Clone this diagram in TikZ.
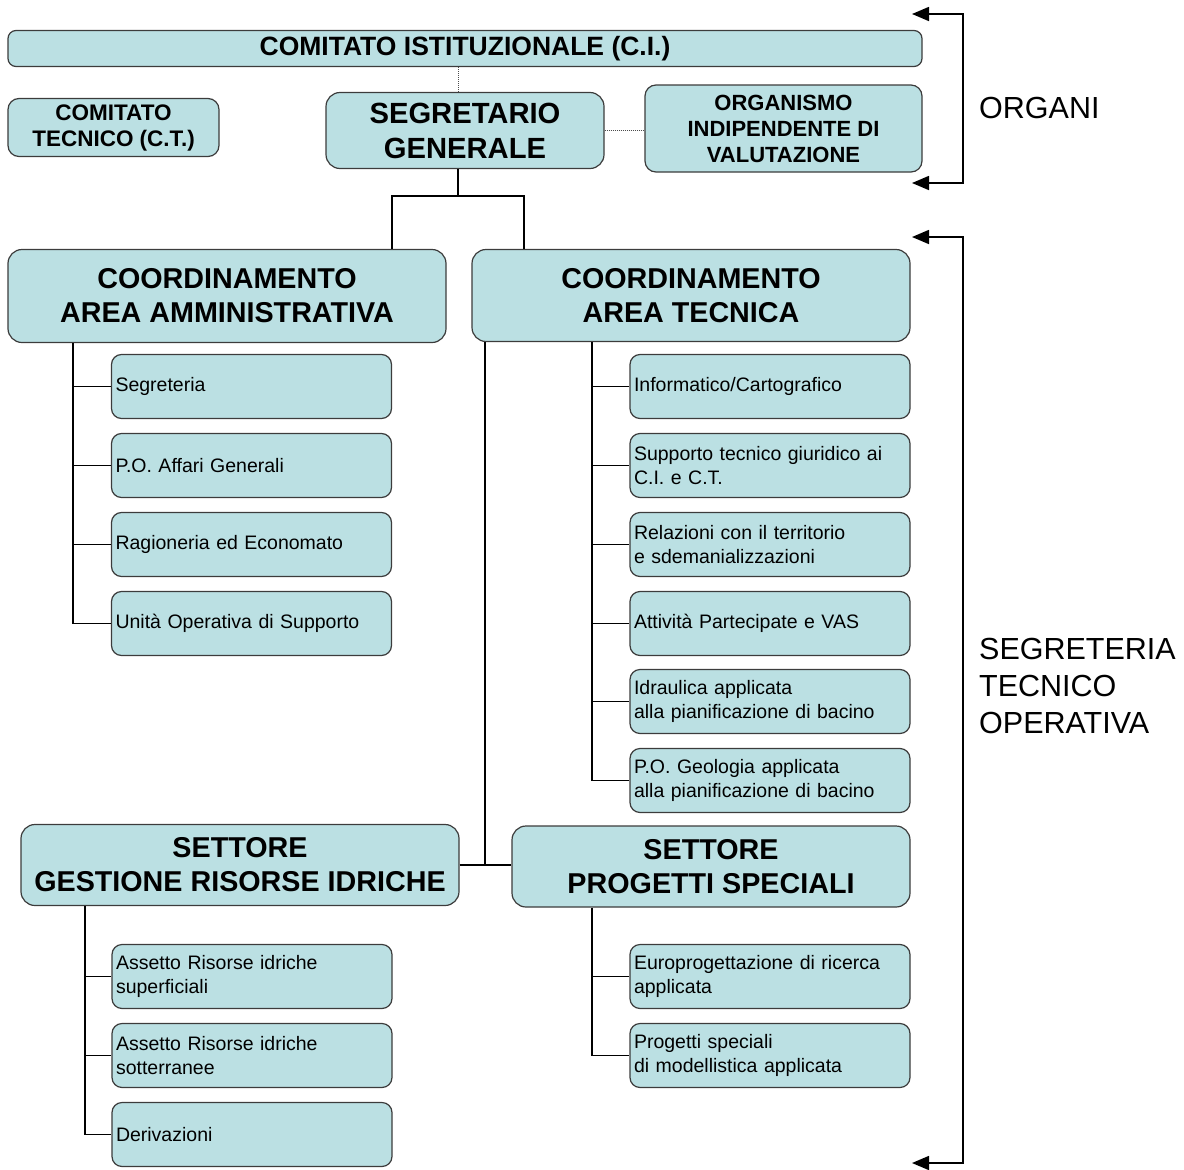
\documentclass[tikz,border=0pt]{standalone}
\usepackage{fontspec}
\setmainfont{Liberation Sans}
\usetikzlibrary{arrows.meta}
\definecolor{boxfill}{RGB}{187,224,227}
\definecolor{boxline}{RGB}{60,60,60}
\tikzset{
  basebox/.style={draw=boxline, fill=boxfill, line width=1.2pt, inner sep=0pt},
  headbox/.style={basebox, rounded corners=14pt, align=center, font=\bfseries\fontsize{28.7}{34}\selectfont},
  midbox/.style={basebox, rounded corners=11pt, align=center, font=\bfseries\fontsize{22.5}{26}\selectfont},
  subbox/.style={basebox, rounded corners=10pt, align=left, inner xsep=4pt, text width=272pt, minimum height=64pt, font=\fontsize{19.5}{24}\selectfont},
  conn/.style={line width=1.6pt, black},
  dotconn/.style={line width=1pt, densely dotted, black!70},
  bracket/.style={line width=1.6pt, {Triangle[length=17pt,width=14pt]}-{Triangle[length=17pt,width=14pt]}},
  sidelabel/.style={anchor=west, align=left, font=\fontsize{30.5}{37}\selectfont, inner sep=0pt}
}
\begin{document}
\begin{tikzpicture}[x=1pt,y=-1pt]
\useasboundingbox (0,0) rectangle (1184,1170);

% top
\node[midbox, minimum width=914pt, minimum height=36pt, rounded corners=8pt, font=\bfseries\fontsize{26.5}{28}\selectfont] (CI) at (465,48.5) {COMITATO ISTITUZIONALE (C.I.)};
\node[midbox, minimum width=211pt, minimum height=58pt] (CT) at (113.5,127.5) {COMITATO\\TECNICO (C.T.)};
\node[headbox, minimum width=278pt, minimum height=76pt, font=\bfseries\fontsize{29.2}{35}\selectfont] (SG) at (465,130.5) {SEGRETARIO\\GENERALE};
\node[midbox, minimum width=277pt, minimum height=87pt, font=\bfseries\fontsize{22}{26}\selectfont] (OIV) at (783.5,128.5) {ORGANISMO\\INDIPENDENTE DI\\VALUTAZIONE};

\coordinate (sgx) at (458,0);
\draw[dotconn] (CI.south -| sgx) -- (SG.north -| sgx);
\draw[dotconn] (SG.east) -- (OIV.west |- SG.east);

% coordinamenti
\node[headbox, minimum width=438pt, minimum height=93pt] (CAA) at (227,296) {COORDINAMENTO\\AREA AMMINISTRATIVA};
\node[headbox, minimum width=438pt, minimum height=92pt] (CAT) at (691,295.5) {COORDINAMENTO\\AREA TECNICA};

\coordinate (j1) at (392,196);
\coordinate (j2) at (524,196);
\draw[conn] (SG.south -| sgx) -- (sgx |- j1);
\draw[conn] (CAA.north -| j1) -- (j1) -- (j2) -- (CAT.north -| j2);

% left column
\node[subbox] (a1) at (251.5,386.5) {Segreteria};
\node[subbox] (a2) at (251.5,465.5) {P.O. Affari Generali};
\node[subbox] (a3) at (251.5,544.5) {Ragioneria ed Economato};
\node[subbox] (a4) at (251.5,623.5) {Unità Operativa di Supporto};
\coordinate (ax) at (73,0);
\draw[conn] (CAA.south -| ax) -- (a4.west -| ax);
\foreach \n in {a1,a2,a3,a4} \draw[conn] (\n.west -| ax) -- (\n.west);

% right column
\node[subbox] (b1) at (770,386.5) {Informatico/Cartografico};
\node[subbox] (b2) at (770,465.5) {Supporto tecnico giuridico ai\\C.I. e C.T.};
\node[subbox] (b3) at (770,544.5) {Relazioni con il territorio\\e sdemanializzazioni};
\node[subbox] (b4) at (770,623.5) {Attività Partecipate e VAS};
\node[subbox] (b5) at (770,701.5) {Idraulica applicata\\alla pianificazione di bacino};
\node[subbox] (b6) at (770,780.5) {P.O. Geologia applicata\\alla pianificazione di bacino};
\coordinate (bx) at (592,0);
\draw[conn] (CAT.south -| bx) -- (b6.west -| bx);
\foreach \n in {b1,b2,b3,b4,b5,b6} \draw[conn] (\n.west -| bx) -- (\n.west);

% settori
\node[headbox, minimum width=438pt, minimum height=81pt] (SGRI) at (240,865) {SETTORE\\GESTIONE RISORSE IDRICHE};
\node[headbox, minimum width=398pt, minimum height=81pt] (SPS) at (711,866.5) {SETTORE\\PROGETTI SPECIALI};
\coordinate (tx) at (485,0);
\draw[conn] (CAT.south -| tx) -- (SGRI.east -| tx);
\draw[conn] (SGRI.east) -- (SPS.west |- SGRI.east);

% SGRI column
\node[subbox] (c1) at (252,976.5) {Assetto Risorse idriche\\superficiali};
\node[subbox] (c2) at (252,1055.5) {Assetto Risorse idriche\\sotterranee};
\node[subbox] (c3) at (252,1134.5) {Derivazioni};
\coordinate (cx) at (85,0);
\draw[conn] (SGRI.south -| cx) -- (c3.west -| cx);
\foreach \n in {c1,c2,c3} \draw[conn] (\n.west -| cx) -- (\n.west);

% SPS column
\node[subbox] (d1) at (770,976.5) {Europrogettazione di ricerca\\applicata};
\node[subbox] (d2) at (770,1055.5) {Progetti speciali\\di modellistica applicata};
\draw[conn] (SPS.south -| bx) -- (d2.west -| bx);
\foreach \n in {d1,d2} \draw[conn] (\n.west -| bx) -- (\n.west);

% brackets
\coordinate (o1) at (912,14);
\coordinate (o2) at (963,14);
\coordinate (o3) at (963,183);
\coordinate (o4) at (912,183);
\draw[bracket] (o1) -- (o2) -- (o3) -- (o4);
\node[sidelabel] (ORG) at (979,108) {ORGANI};

\coordinate (s1) at (912,237);
\coordinate (s2) at (963,237);
\coordinate (s3) at (963,1163);
\coordinate (s4) at (912,1163);
\draw[bracket] (s1) -- (s2) -- (s3) -- (s4);
\node[sidelabel] (STO) at (979,686) {SEGRETERIA\\TECNICO\\OPERATIVA};
\end{tikzpicture}
\end{document}
